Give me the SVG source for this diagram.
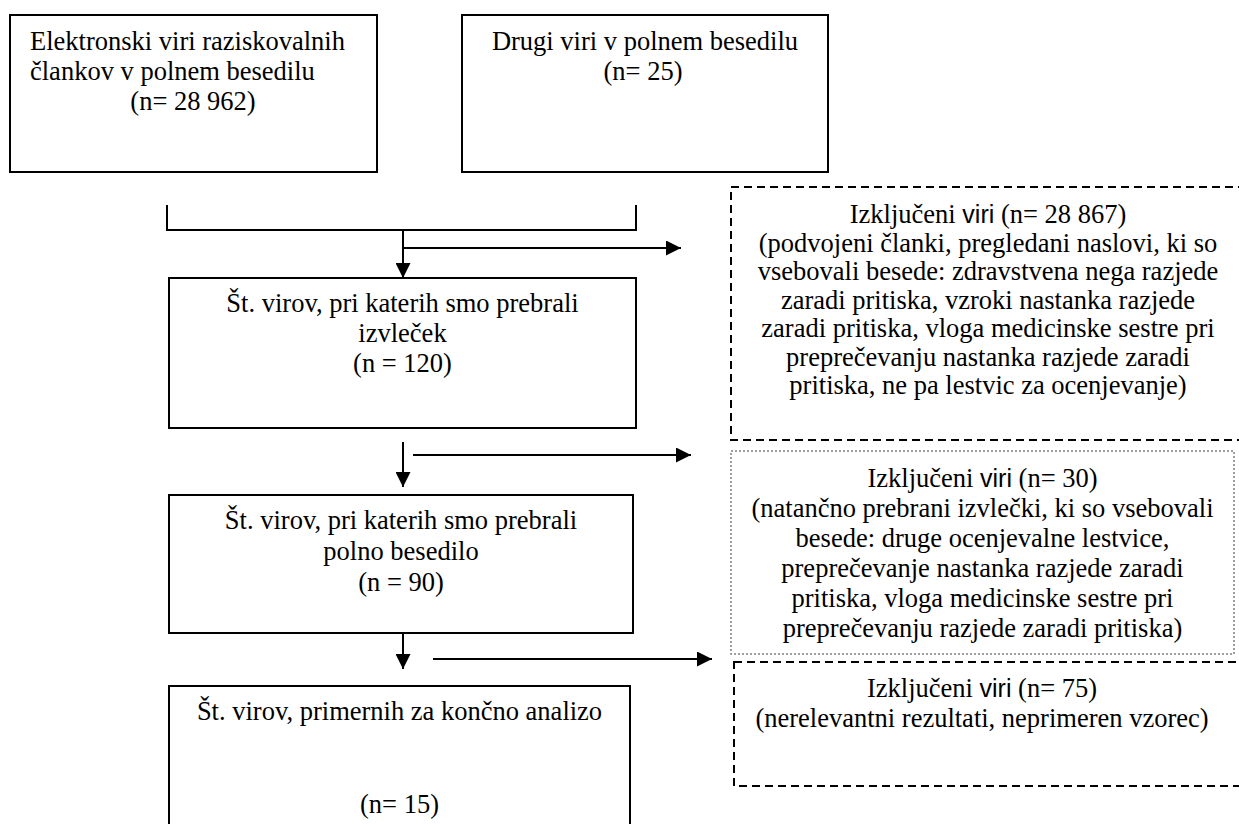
<svg xmlns="http://www.w3.org/2000/svg" width="1239" height="824" viewBox="0 0 1239 824">
<style>
.box{fill:#fff;stroke:#000;stroke-width:2}
.dash{fill:none;stroke:#000;stroke-width:2;stroke-dasharray:8 5}
.dot{fill:none;stroke:#808080;stroke-width:1.5;stroke-dasharray:2 2}
.t{font-family:"Liberation Serif","Times New Roman",serif;font-size:26.5px;fill:#000}
.c{text-anchor:middle}
.s{font-family:"Liberation Sans",Arial,sans-serif;font-size:25px}
.ln{fill:none;stroke:#000;stroke-width:2}
</style>
<defs>
<marker id="ah" markerUnits="userSpaceOnUse" markerWidth="15" markerHeight="15" refX="15" refY="7.5" orient="auto">
<path d="M0,0 L15,7.5 L0,15 z" fill="#000"/>
</marker>
</defs>
<rect width="1239" height="824" fill="#fff"/>
<g id="connectors">
<path class="ln" d="M167,205 V230 H636 V205"/>
<line class="ln" x1="403" y1="230" x2="403" y2="278" marker-end="url(#ah)"/>
<line class="ln" x1="403" y1="248" x2="681" y2="248" marker-end="url(#ah)"/>
<line class="ln" x1="403" y1="442" x2="403" y2="487" marker-end="url(#ah)"/>
<line class="ln" x1="413" y1="455" x2="691" y2="455" marker-end="url(#ah)"/>
<line class="ln" x1="403" y1="633" x2="403" y2="669" marker-end="url(#ah)"/>
<line class="ln" x1="433" y1="659" x2="712" y2="659" marker-end="url(#ah)"/>
</g>
<g id="n1">
<rect class="box" x="10" y="15" width="367" height="157"/>
<text class="t" x="30" y="50">Elektronski viri raziskovalnih</text>
<text class="t" x="30" y="80">člankov v polnem besedilu</text>
<text class="t c" x="193" y="110">(n= 28 962)</text>
</g>
<g id="n2">
<rect class="box" x="462" y="15" width="366" height="157"/>
<text class="t c" x="645" y="50">Drugi viri v polnem besedilu</text>
<text class="t c" x="643" y="80">(n= 25)</text>
</g>
<g id="n3">
<rect class="box" x="169" y="278" width="467" height="150"/>
<text class="t c" x="402.5" y="312">Št. virov, pri katerih smo prebrali</text>
<text class="t c" x="402.5" y="342">izvleček</text>
<text class="t c" x="402.5" y="372">(n = 120)</text>
</g>
<g id="n4">
<rect class="box" x="169" y="495" width="464" height="138"/>
<text class="t c" x="401" y="529">Št. virov, pri katerih smo prebrali</text>
<text class="t c" x="401" y="560">polno besedilo</text>
<text class="t c" x="401" y="591">(n = 90)</text>
</g>
<g id="n5">
<rect class="box" x="169" y="686" width="461" height="150"/>
<text class="t c" x="399.5" y="720">Št. virov, primernih za končno analizo</text>
<text class="t c" x="399.5" y="813">(n= 15)</text>
</g>
<g id="ex1">
<rect class="dash" x="731" y="187" width="514" height="253"/>
<text class="t c" x="988" y="223">Izključeni <tspan class="s">viri</tspan> (n= 28 867)</text>
<text class="t c" x="988" y="251.5">(podvojeni članki, pregledani naslovi, ki so</text>
<text class="t c" x="988" y="280">vsebovali besede: zdravstvena nega razjede</text>
<text class="t c" x="988" y="308.5">zaradi pritiska, vzroki nastanka razjede</text>
<text class="t c" x="988" y="337">zaradi pritiska, vloga medicinske sestre pri</text>
<text class="t c" x="988" y="365.5">preprečevanju nastanka razjede zaradi</text>
<text class="t c" x="988" y="394">pritiska, ne pa lestvic za ocenjevanje)</text>
</g>
<g id="ex2">
<rect class="dot" x="731" y="451" width="503" height="203"/>
<text class="t c" x="982.5" y="487">Izključeni <tspan class="s">viri</tspan> (n= 30)</text>
<text class="t c" x="982.5" y="517">(natančno prebrani izvlečki, ki so vsebovali</text>
<text class="t c" x="982.5" y="547">besede: druge ocenjevalne lestvice,</text>
<text class="t c" x="982.5" y="577">preprečevanje nastanka razjede zaradi</text>
<text class="t c" x="982.5" y="607">pritiska, vloga medicinske sestre pri</text>
<text class="t c" x="982.5" y="637">preprečevanju razjede zaradi pritiska)</text>
</g>
<g id="ex3">
<rect class="dash" x="734" y="662" width="510" height="124"/>
<text class="t c" x="982" y="697">Izključeni <tspan class="s">viri</tspan> (n= 75)</text>
<text class="t c" x="982" y="727">(nerelevantni rezultati, neprimeren vzorec)</text>
</g>
</svg>
